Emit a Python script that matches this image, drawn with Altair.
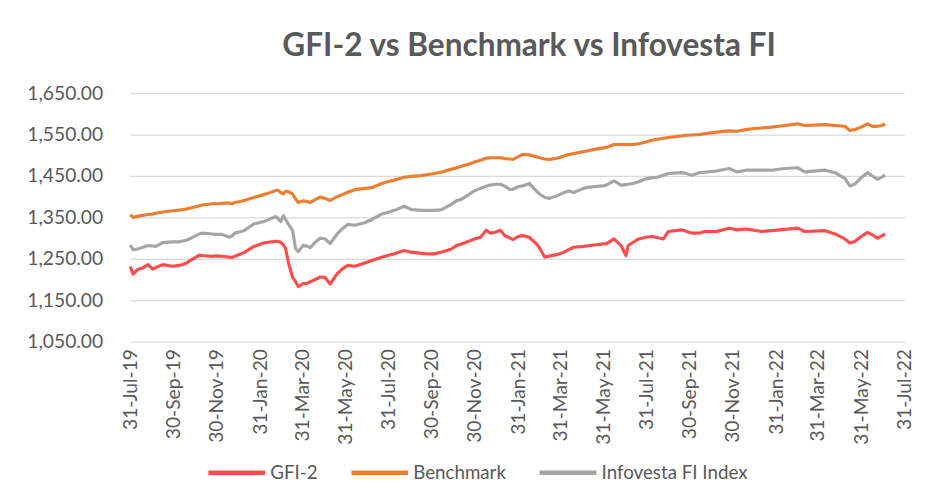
import altair as alt
import pandas as pd

dates = [
    "2019-07-31", "2019-08-04", "2019-08-11", "2019-08-18", "2019-08-25", "2019-09-01", "2019-09-05",
    "2019-09-15", "2019-09-29", "2019-10-09", "2019-10-18", "2019-10-23", "2019-11-06", "2019-11-10",
    "2019-11-24", "2019-11-28", "2019-12-08", "2019-12-18", "2019-12-22", "2019-12-26", "2020-01-04",
    "2020-01-08", "2020-01-22", "2020-02-05", "2020-02-11", "2020-02-22", "2020-02-25", "2020-02-29",
    "2020-03-04", "2020-03-07", "2020-03-11", "2020-03-17", "2020-03-21", "2020-03-25", "2020-04-01",
    "2020-04-07", "2020-04-11", "2020-04-18", "2020-04-25", "2020-05-02", "2020-05-09", "2020-05-19",
    "2020-05-26", "2020-06-03", "2020-06-13", "2020-06-27", "2020-07-07", "2020-07-21", "2020-07-29",
    "2020-08-08", "2020-08-22", "2020-09-01", "2020-09-15", "2020-09-23", "2020-10-03", "2020-10-13",
    "2020-10-27", "2020-11-04", "2020-11-10", "2020-11-24", "2020-11-28", "2020-12-08", "2020-12-16",
    "2020-12-22", "2020-12-29", "2021-01-05", "2021-01-12", "2021-01-19", "2021-01-23", "2021-01-30",
    "2021-02-06", "2021-02-15", "2021-02-26", "2021-03-02", "2021-03-09", "2021-03-16", "2021-03-26",
    "2021-04-05", "2021-04-12", "2021-04-19", "2021-05-03", "2021-05-07", "2021-05-21", "2021-05-31",
    "2021-06-04", "2021-06-15", "2021-06-25", "2021-07-02", "2021-07-05", "2021-07-12", "2021-07-20",
    "2021-07-30", "2021-08-09", "2021-08-13", "2021-08-24", "2021-08-31", "2021-09-19", "2021-09-23",
    "2021-10-03", "2021-10-14", "2021-10-21", "2021-11-07", "2021-11-25", "2021-12-06", "2021-12-19",
    "2021-12-27", "2022-01-10", "2022-01-24", "2022-02-12", "2022-03-02", "2022-03-12", "2022-04-10",
    "2022-04-24", "2022-05-08", "2022-05-15", "2022-05-22", "2022-05-31", "2022-06-09", "2022-06-16",
    "2022-06-23", "2022-06-30", "2022-07-04",
]

benchmark = [
    1356, 1350, 1353, 1355, 1357, 1358, 1360, 1363, 1366, 1368, 1370, 1372, 1378, 1380,
    1383, 1383, 1384, 1385, 1383, 1386, 1389, 1391, 1398, 1405, 1408, 1415, 1416, 1410,
    1407, 1413, 1412, 1406, 1395, 1386, 1390, 1388, 1386, 1393, 1399, 1396, 1391, 1400,
    1405, 1411, 1417, 1420, 1422, 1432, 1436, 1440, 1447, 1449, 1451, 1453, 1456, 1459,
    1466, 1470, 1473, 1480, 1483, 1488, 1493, 1494, 1494, 1494, 1492, 1491, 1490, 1496,
    1502, 1501, 1496, 1494, 1491, 1490, 1493, 1498, 1502, 1504, 1509, 1510, 1515, 1518,
    1519, 1526, 1526, 1526, 1526, 1526, 1528, 1532, 1537, 1538, 1541, 1543, 1547, 1548,
    1549, 1550, 1552, 1556, 1559, 1558, 1562, 1564, 1566, 1568, 1572, 1576, 1572, 1574,
    1572, 1570, 1560, 1562, 1568, 1576, 1570, 1570, 1572, 1576,
]

infovesta = [
    1283, 1272, 1274, 1278, 1282, 1281, 1280, 1289, 1291, 1291, 1295, 1298, 1310, 1312,
    1310, 1309, 1309, 1302, 1305, 1312, 1316, 1318, 1334, 1340, 1344, 1352, 1348, 1340,
    1354, 1345, 1334, 1318, 1275, 1267, 1283, 1280, 1277, 1290, 1300, 1298, 1287, 1310,
    1322, 1333, 1331, 1337, 1345, 1358, 1362, 1367, 1377, 1369, 1367, 1367, 1367, 1368,
    1381, 1390, 1393, 1408, 1413, 1420, 1425, 1428, 1430, 1430, 1425, 1417, 1418, 1424,
    1426, 1432, 1412, 1406, 1398, 1396, 1402, 1410, 1414, 1410, 1420, 1422, 1425, 1426,
    1428, 1438, 1428, 1429, 1430, 1432, 1436, 1443, 1446, 1446, 1452, 1456, 1458, 1457,
    1452, 1458, 1459, 1462, 1468, 1460, 1464, 1464, 1464, 1464, 1468, 1470, 1460, 1464,
    1458, 1444, 1426, 1430, 1446, 1458, 1450, 1442, 1448, 1452,
]

gfi2 = [
    1231, 1213, 1225, 1228, 1236, 1225, 1229, 1236, 1232, 1234, 1239, 1245, 1259, 1258,
    1256, 1257, 1256, 1254, 1253, 1256, 1262, 1265, 1280, 1288, 1290, 1292, 1292, 1290,
    1283, 1275, 1240, 1205, 1195, 1183, 1190, 1191, 1195, 1200, 1206, 1205, 1189, 1214,
    1225, 1234, 1232, 1240, 1246, 1254, 1258, 1262, 1270, 1266, 1263, 1262, 1262, 1266,
    1273, 1282, 1285, 1294, 1297, 1302, 1319, 1312, 1314, 1319, 1305, 1300, 1296, 1304,
    1306, 1302, 1285, 1275, 1254, 1257, 1260, 1266, 1272, 1278, 1280, 1281, 1284, 1286,
    1286, 1298, 1282, 1258, 1282, 1290, 1298, 1302, 1304, 1302, 1298, 1316, 1320, 1318,
    1312, 1312, 1316, 1316, 1324, 1320, 1322, 1320, 1316, 1318, 1321, 1324, 1316, 1318,
    1310, 1298, 1288, 1292, 1304, 1314, 1308, 1300, 1306, 1310,
]

series_names = ["GFI-2", "Benchmark", "Infovesta FI Index"]
series_colors = ["#FF4D4D", "#ED7D31", "#A5A5A5"]
y_ticks = [1050, 1150, 1250, 1350, 1450, 1550, 1650]
x_ticks = [
    (2019, 7, 31), (2019, 9, 30), (2019, 11, 30), (2020, 1, 31), (2020, 3, 31), (2020, 5, 31),
    (2020, 7, 31), (2020, 9, 30), (2020, 11, 30), (2021, 1, 31), (2021, 3, 31), (2021, 5, 31),
    (2021, 7, 31), (2021, 9, 30), (2021, 11, 30), (2022, 1, 31), (2022, 3, 31), (2022, 5, 31),
    (2022, 7, 31),
]

frames = []
for name, vals in zip(series_names, [gfi2, benchmark, infovesta]):
    frames.append(pd.DataFrame({"date": pd.to_datetime(dates), "value": vals, "series": name}))
df = pd.concat(frames, ignore_index=True)

text_color = "#595959"
font = "Lato"

chart = alt.Chart(df).mark_line(strokeWidth=3.2, strokeJoin="round").encode(
    x=alt.X(
        "date:T",
        title=None,
        scale=alt.Scale(domain=[alt.DateTime(year=2019, month=7, date=31),
                                alt.DateTime(year=2022, month=7, date=31)]),
        axis=alt.Axis(
            values=[alt.DateTime(year=y, month=m, date=d) for (y, m, d) in x_ticks],
            format="%d-%b-%y", labelAngle=270, labelPadding=7, labelFontSize=19.5,
            labelColor=text_color, labelFont=font, domain=False, ticks=False, grid=False,
            labelOverlap=False, labelFlush=False,
        ),
    ),
    y=alt.Y(
        "value:Q",
        title=None,
        scale=alt.Scale(domain=[1050, 1650], nice=False, zero=False),
        axis=alt.Axis(
            values=y_ticks, format=",.2f", labelPadding=28, labelFontSize=19.5,
            labelColor=text_color, labelFont=font, domain=False, ticks=False,
            grid=True, gridColor="#D9D9D9", gridWidth=1.3,
        ),
    ),
    color=alt.Color(
        "series:N",
        sort=series_names,
        scale=alt.Scale(domain=series_names, range=series_colors),
        legend=alt.Legend(
            title=None, orient="none", direction="horizontal", legendX=77, legendY=354,
            symbolType="stroke", symbolSize=3300, symbolStrokeWidth=4.5,
            labelFontSize=19, labelColor=text_color, labelFont=font,
            labelOffset=3, columnPadding=24,
        ),
    ),
).properties(
    width=785,
    height=252,
    title=alt.TitleParams(
        "GFI-2 vs Benchmark vs Infovesta FI", fontSize=32, font=font, fontWeight="bold",
        color=text_color, anchor="middle", offset=21, dx=12,
    ),
    autosize=alt.AutoSizeParams(type="none"),
    padding={"left": 124, "top": 83, "right": 16, "bottom": 140},
).configure_view(stroke=None)

chart.save("out.html", embed_options={"renderer": "svg", "actions": False})
